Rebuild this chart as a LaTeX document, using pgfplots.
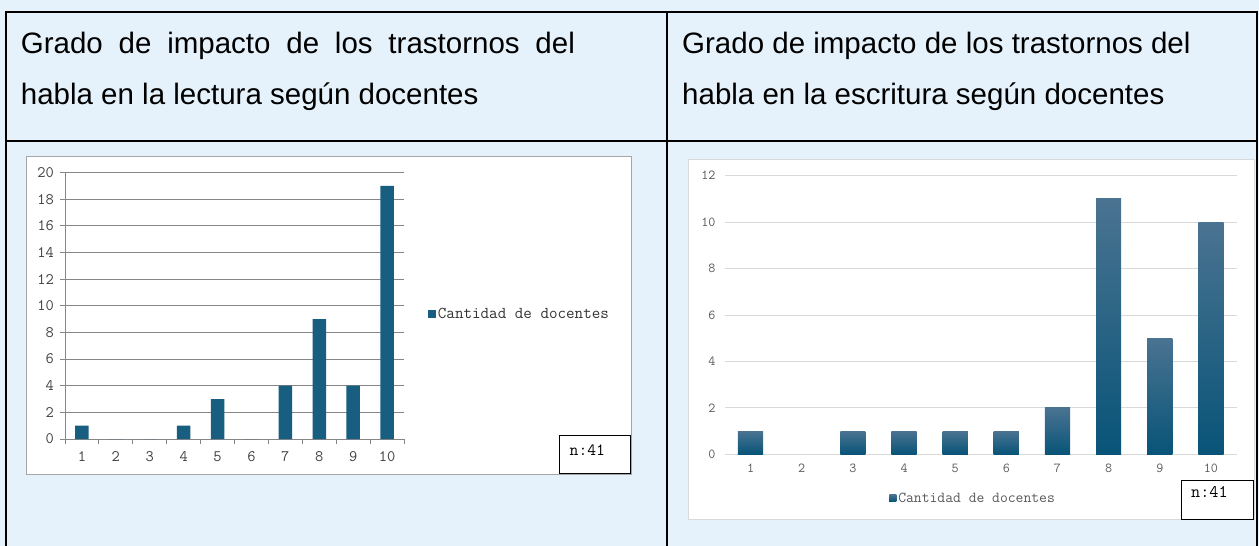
\documentclass[border=0pt]{standalone}
\usepackage{fontspec}
\setmainfont{Liberation Sans}
\usepackage{pgfplots}
\pgfplotsset{compat=1.18}
\definecolor{bgblue}{RGB}{229,242,251}
\definecolor{barL}{RGB}{24,94,128}
\definecolor{gtop}{RGB}{74,115,145}
\definecolor{gmid}{RGB}{16,96,133}
\definecolor{gbot}{RGB}{8,84,120}
\definecolor{gridL}{RGB}{134,134,134}
\definecolor{gridR}{RGB}{217,217,217}
\definecolor{lblR}{RGB}{89,89,89}
\begin{document}
\begin{tikzpicture}
\useasboundingbox (0pt,0pt) rectangle (1259pt,-546pt);
\fill[bgblue] (0pt,0pt) rectangle (1259pt,-546pt);
% chart boxes
\filldraw[fill=white, draw=black!35, line width=1pt] (26pt,-156pt) rectangle (631pt,-474pt);
\filldraw[fill=white, draw=gridR, line width=1pt] (688pt,-159pt) rectangle (1254pt,-519pt);
% table lines
\draw[line width=2pt] (6pt,-546pt) -- (6pt,-12pt) -- (1257pt,-12pt) -- (1257pt,-546pt);
\draw[line width=2pt] (6pt,-141pt) -- (1257pt,-141pt);
\draw[line width=2pt] (667pt,-12pt) -- (667pt,-546pt);
% titles
\begin{scope}[every node/.style={inner sep=0pt, anchor=base west, font=\fontsize{29.5}{29.5}\selectfont}]
\node at (20.7pt,-53pt) {\makebox[554pt][s]{Grado de impacto de los trastornos del}};
\node at (20.7pt,-104pt) {habla en la lectura según docentes};
\node at (682pt,-53pt) {Grado de impacto de los trastornos del};
\node at (682pt,-104pt) {habla en la escritura según docentes};
\end{scope}
% left chart
\begin{axis}[
  at={(65pt,-439pt)}, anchor=south west,
  scale only axis, width=339pt, height=266.5pt,
  xmin=0.5, xmax=10.5, ymin=0, ymax=20,
  ytick={0,2,...,20},
  xtick={0.5,1.5,...,10.5}, xticklabels={},
  extra x ticks={1,2,3,4,5,6,7,8,9,10},
  extra x tick labels={1,2,3,4,5,6,7,8,9,10},
  extra x tick style={major tick length=0pt, grid=none},
  axis lines=left,
  axis line style={draw=gridL, line width=0.8pt, -},
  ymajorgrids, grid style={draw=gridL, line width=0.8pt},
  tick style={draw=gridL, line width=0.8pt},
  tick align=outside, major tick length=4.5pt,
  /pgf/number format/assume math mode=true,
  ticklabel style={font=\ttfamily\fontsize{16}{16}\selectfont, text=black!75},
  yticklabel style={xshift=-3pt},
  xticklabel style={yshift=-9pt},
  bar width=13.5pt,
  legend style={at={(axis description cs:1.07,0.469)}, anchor=west, draw=none, fill=none,
    font=\ttfamily\fontsize{16.6}{16.6}\selectfont, text=black!80, inner sep=0pt},
  legend image code/.code={\fill[barL] (0pt,-4pt) rectangle (8pt,4pt);},
  clip=false
]
\addplot[ybar, bar shift=0pt, fill=barL, draw=none] coordinates {(1,1) (2,0) (3,0) (4,1) (5,3) (6,0) (7,4) (8,9) (9,4) (10,19)};
\addlegendentry{Cantidad de docentes}
\end{axis}
% right chart
\begin{axis}[
  at={(725pt,-454.3pt)}, anchor=south west,
  scale only axis, width=511.5pt, height=278.6pt,
  xmin=0.5, xmax=10.5, ymin=0, ymax=12,
  ytick={0,2,...,12}, xtick={1,2,...,10},
  axis lines=left,
  x axis line style={draw=gridR, line width=1pt, -},
  y axis line style={draw=none},
  ymajorgrids, grid style={draw=gridR, line width=1pt},
  major tick length=0pt,
  /pgf/number format/assume math mode=true,
  ticklabel style={font=\ttfamily\fontsize{13.7}{13.7}\selectfont, text=lblR},
  yticklabel style={xshift=-6pt},
  xticklabel style={yshift=-6pt},
  bar width=25.2pt,
  legend style={at={(axis description cs:0.485,-0.157)}, anchor=center, draw=none, fill=none,
    font=\ttfamily\fontsize{15.2}{15.2}\selectfont, text=lblR, inner sep=0pt},
  legend image code/.code={\fill[gbot] (0pt,-3.5pt) rectangle (7pt,3.5pt);},
  clip=false
]
\addplot[ybar, bar shift=0pt, draw=none, top color=gtop, middle color=gmid, bottom color=gbot] coordinates {(1,1)};
\addlegendentry{Cantidad de docentes}
\addplot[ybar, bar shift=0pt, draw=none, fill=none, forget plot] coordinates {(2,0)};
\addplot[ybar, bar shift=0pt, draw=none, top color=gtop, middle color=gmid, bottom color=gbot, forget plot] coordinates {(3,1)};
\addplot[ybar, bar shift=0pt, draw=none, top color=gtop, middle color=gmid, bottom color=gbot, forget plot] coordinates {(4,1)};
\addplot[ybar, bar shift=0pt, draw=none, top color=gtop, middle color=gmid, bottom color=gbot, forget plot] coordinates {(5,1)};
\addplot[ybar, bar shift=0pt, draw=none, top color=gtop, middle color=gmid, bottom color=gbot, forget plot] coordinates {(6,1)};
\addplot[ybar, bar shift=0pt, draw=none, top color=gtop, middle color=gmid, bottom color=gbot, forget plot] coordinates {(7,2)};
\addplot[ybar, bar shift=0pt, draw=none, top color=gtop, middle color=gmid, bottom color=gbot, forget plot] coordinates {(8,11)};
\addplot[ybar, bar shift=0pt, draw=none, top color=gtop, middle color=gmid, bottom color=gbot, forget plot] coordinates {(9,5)};
\addplot[ybar, bar shift=0pt, draw=none, top color=gtop, middle color=gmid, bottom color=gbot, forget plot] coordinates {(10,10)};
\end{axis}
% n boxes
\draw[line width=1pt] (559pt,-435pt) rectangle (630pt,-473pt);
\node[anchor=west, inner sep=0pt, font=\ttfamily\fontsize{17.1}{17.1}\selectfont] at (569.5pt,-450pt) {n:41};
\draw[line width=1pt] (1181pt,-480.7pt) rectangle (1253.7pt,-519.3pt);
\node[anchor=west, inner sep=0pt, font=\ttfamily\fontsize{17.7}{17.7}\selectfont] at (1191pt,-492pt) {n:41};
\end{tikzpicture}
\end{document}
